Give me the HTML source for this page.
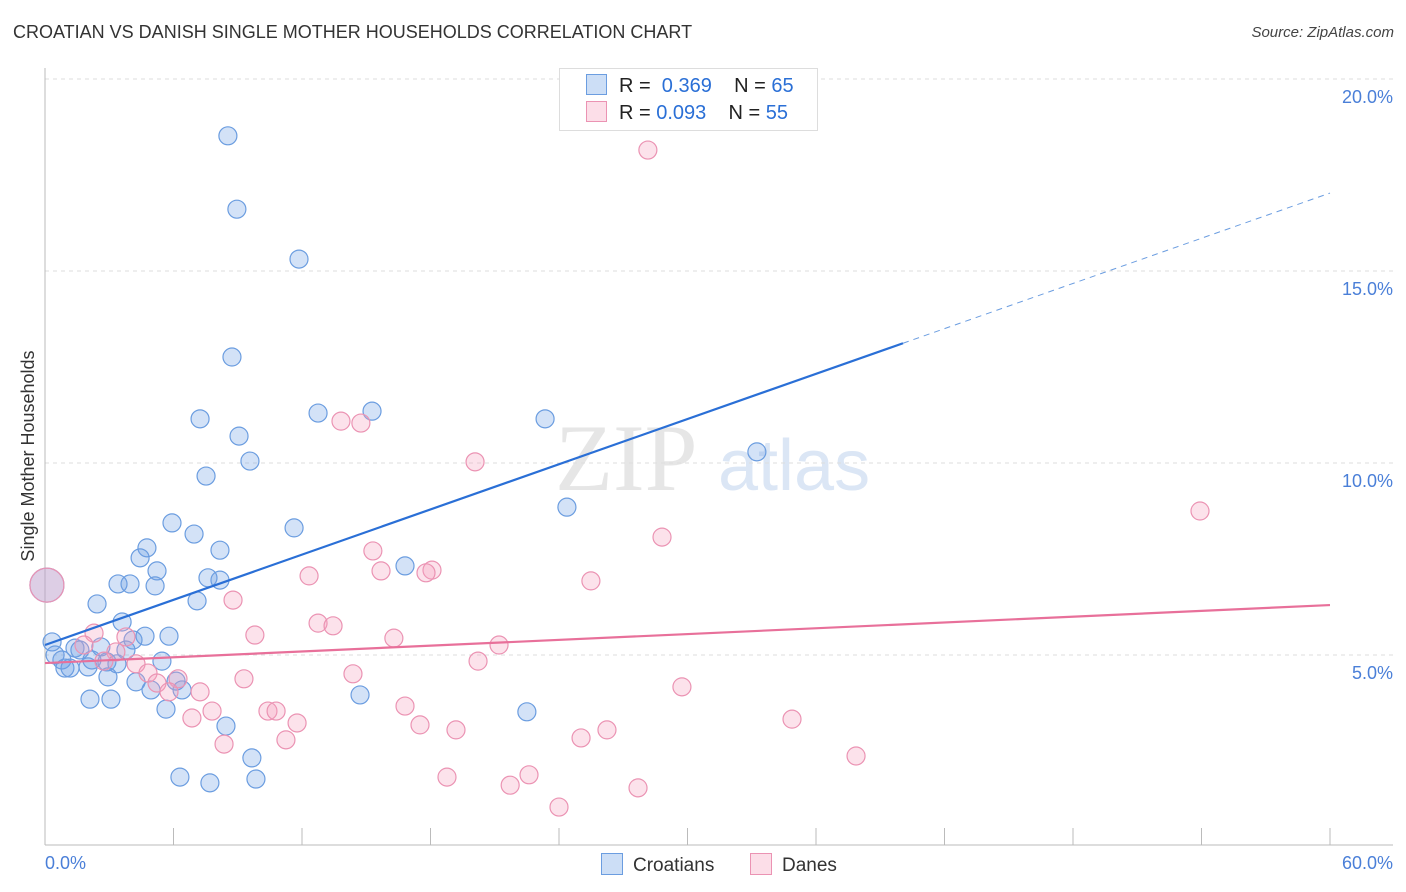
<!DOCTYPE html>
<html><head><meta charset="utf-8"><style>
body{margin:0;background:#fff;font-family:"Liberation Sans",sans-serif;}
#wrap{position:relative;width:1406px;height:892px;overflow:hidden;}
.t{position:absolute;white-space:nowrap;}
</style></head><body>
<div id="wrap">
<div class="t" style="left:13px;top:22px;font-size:18px;color:#333;">CROATIAN VS DANISH SINGLE MOTHER HOUSEHOLDS CORRELATION CHART</div>
<div class="t" style="right:12px;top:24px;font-size:15px;color:#444;font-style:italic;">Source: ZipAtlas.com</div>
<svg id="svg" width="1406" height="892" style="position:absolute;left:0;top:0"></svg>
</div>
<script>
const blueX=[8.54,8.96,11.86,8.73,12.75,15.27,23.35,7.24,9.06,9.57,7.52,33.24,24.37,5.93,11.63,6.96,4.76,8.17,4.44,5.23,16.81,7.61,8.17,3.41,3.97,5.14,7.10,2.43,3.60,5.79,4.67,0.33,4.11,2.61,3.78,1.40,1.63,0.47,0.79,2.19,3.36,2.89,5.46,2.01,0.93,1.17,2.94,4.25,6.12,4.95,6.40,14.71,2.10,3.08,5.65,22.50,8.45,9.66,6.30,7.70,9.85,0.09];
const blueY=[18.52,16.61,15.31,12.76,11.30,11.35,11.15,11.15,10.70,10.05,9.66,10.29,8.85,8.44,8.31,8.15,7.79,7.73,7.53,7.19,7.32,7.01,6.95,6.85,6.85,6.80,6.41,6.33,5.86,5.49,5.49,5.34,5.39,5.21,5.13,5.18,5.13,5.00,4.87,4.87,4.77,4.82,4.84,4.69,4.66,4.66,4.43,4.30,4.32,4.09,4.09,3.96,3.85,3.85,3.59,3.52,3.15,2.32,1.82,1.67,1.77,6.82];
const pinkX=[28.15,13.82,14.75,20.08,53.93,28.81,15.31,15.69,18.07,17.79,12.33,25.49,8.78,12.75,13.45,9.80,16.29,2.29,3.78,21.20,1.82,3.31,20.22,4.25,2.75,4.81,14.38,9.29,6.21,5.23,5.79,7.24,29.74,16.81,10.41,10.79,7.80,6.86,11.77,17.51,34.88,19.19,26.24,11.25,25.03,8.36,37.87,18.77,22.60,21.72,27.69,24.00,0.09];
const pinkY=[18.15,11.09,11.04,10.03,8.75,8.07,7.71,7.19,7.21,7.14,7.06,6.93,6.43,5.83,5.76,5.52,5.44,5.57,5.47,5.26,5.26,5.08,4.84,4.77,4.84,4.53,4.51,4.38,4.38,4.27,4.04,4.04,4.17,3.67,3.54,3.54,3.54,3.36,3.23,3.18,3.33,3.05,3.05,2.79,2.84,2.68,2.37,1.82,1.88,1.61,1.54,1.04,6.82];
const blueTrend=[5.26,17.03];
const pinkTrend=[4.79,6.30];
const yTicks=[5,10,15,20];
const yTickLabels=["5.0%","10.0%","15.0%","20.0%"];
const xTicks=[0,6,12,18,24,30,36,42,48,54,60];

const X=v=>45+v/60*1285, Y=v=>847-v*38.4;
const NS="http://www.w3.org/2000/svg", svg=document.getElementById('svg');
function mk(tag,attrs){const e=document.createElementNS(NS,tag);for(const k in attrs)e.setAttribute(k,attrs[k]);svg.appendChild(e);return e;}

// watermark
let wm=mk('text',{x:555,y:490,'font-size':95,'font-family':'Liberation Serif,serif',fill:'#e6e6e6'});wm.textContent='ZIP';


let wm2=mk('text',{x:718,y:490,'font-size':72,'font-family':'Liberation Sans,sans-serif',fill:'#dbe6f5'});wm2.textContent='atlas';



yTicks.forEach((v,i)=>{
 const g=mk('line',{x1:45,x2:1393,y1:Y(v),y2:Y(v),stroke:'#ddd','stroke-dasharray':'4,4'});
 
 
 const t=mk('text',{x:1393,y:Y(v)+24,'text-anchor':'end','font-size':18,fill:'#4a7fd8','font-family':'Liberation Sans,sans-serif'});
 t.textContent=yTickLabels[i];
 
 
});
let ax=mk('line',{x1:45,x2:45,y1:68,y2:845,stroke:'#bbb'});


let axx=mk('line',{x1:45,x2:1393,y1:845,y2:845,stroke:'#bbb'});


xTicks.forEach(v=>{
 const l=mk('line',{x1:X(v),x2:X(v),y1:828,y2:845,stroke:'#bbb'});
 
 
});

function dots(xs,ys,fill,stroke,name){
 xs.forEach((x,i)=>{
  const big=(x<0.2&&Math.abs(ys[i]-6.82)<0.01);
  const c=mk('circle',{cx:X(x),cy:Y(ys[i]),r:big?17:9,fill:fill,stroke:stroke,'stroke-width':1.2});
  
  
 });
}
dots(blueX,blueY,'rgba(110,160,230,0.3)','#6b9de0','croatian-point');
dots(pinkX,pinkY,'rgba(245,160,190,0.3)','#eb93b3','danish-point');

const bx=903, bv=blueTrend[0]+(blueTrend[1]-blueTrend[0])*((bx-45)/1285);
let b1=mk('line',{x1:X(0),y1:Y(blueTrend[0]),x2:bx,y2:Y(bv),stroke:'#2a6fd6','stroke-width':2.2});


let b2=mk('line',{x1:bx,y1:Y(bv),x2:X(60),y2:Y(blueTrend[1]),stroke:'#6b9de0','stroke-width':1,'stroke-dasharray':'6,5'});


let p1=mk('line',{x1:X(0),y1:Y(pinkTrend[0]),x2:X(60),y2:Y(pinkTrend[1]),stroke:'#e8709a','stroke-width':2.2});



let xl=mk('text',{x:45,y:869,'font-size':18,fill:'#4a7fd8','font-family':'Liberation Sans,sans-serif'});xl.textContent='0.0%';


let xr=mk('text',{x:1393,y:869,'text-anchor':'end','font-size':18,fill:'#4a7fd8','font-family':'Liberation Sans,sans-serif'});xr.textContent='60.0%';


let yt=mk('text',{x:0,y:0,'font-size':18,fill:'#333','font-family':'Liberation Sans,sans-serif','text-anchor':'middle',transform:'translate(34,456) rotate(-90)'});yt.textContent='Single Mother Households';


</script>
<div class="t" style="left:559px;top:68px;width:257px;height:61px;border:1px solid #ddd;background:#fff;"></div>
<div class="t" style="left:586px;top:74px;font-size:20px;color:#222;"><span style="display:inline-block;width:19px;height:19px;background:rgba(110,160,230,0.35);border:1px solid #6b9de0;vertical-align:-3px;margin-right:12px"></span>R = <span style="color:#2a6fd6">&nbsp;0.369</span>&nbsp;&nbsp;&nbsp; N = <span style="color:#2a6fd6">65</span></div>
<div class="t" style="left:586px;top:101px;font-size:20px;color:#222;"><span style="display:inline-block;width:19px;height:19px;background:rgba(245,160,190,0.35);border:1px solid #eb93b3;vertical-align:-3px;margin-right:12px"></span>R = <span style="color:#2a6fd6">0.093</span>&nbsp;&nbsp;&nbsp; N = <span style="color:#2a6fd6">55</span></div>
<div class="t" style="left:601px;top:853px;font-size:19px;color:#333;"><span style="display:inline-block;width:20px;height:20px;background:rgba(110,160,230,0.35);border:1px solid #6b9de0;vertical-align:-4px;margin-right:10px"></span>Croatians</div>
<div class="t" style="left:750px;top:853px;font-size:19px;color:#333;"><span style="display:inline-block;width:20px;height:20px;background:rgba(245,160,190,0.35);border:1px solid #eb93b3;vertical-align:-4px;margin-right:10px"></span>Danes</div>
</body></html>
